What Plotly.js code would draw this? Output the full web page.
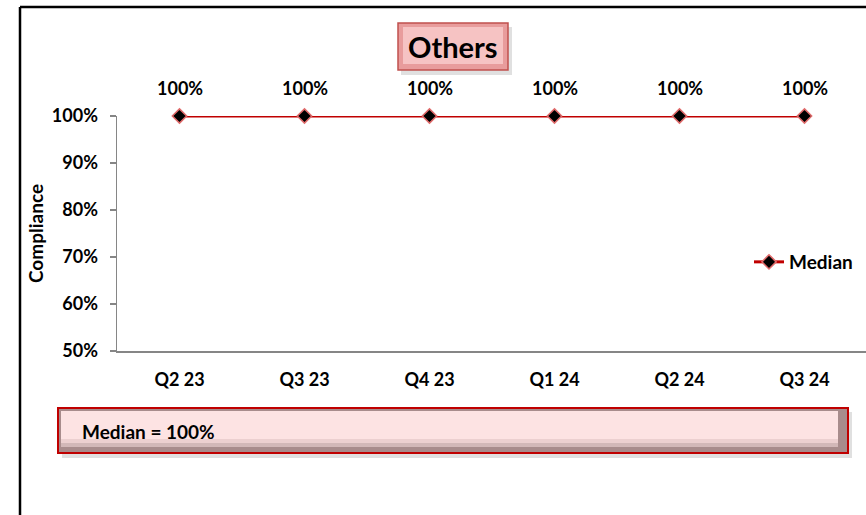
<!DOCTYPE html>
<html>
<head>
<meta charset="utf-8">
<script src="https://cdn.plot.ly/plotly-3.0.1.min.js"></script>
<style>html,body{margin:0;padding:0;background:#fff;}#chart{width:866px;height:515px;}</style>
</head>
<body>
<div id="chart"></div>
<script>
const categories = ['Q2 23', 'Q3 23', 'Q4 23', 'Q1 24', 'Q2 24', 'Q3 24'];
const medianValues = [100, 100, 100, 100, 100, 100];
const dataLabels = ['100%', '100%', '100%', '100%', '100%', '100%'];
const seriesName = 'Median';
const chartTitle = 'Others';
const summaryText = 'Median = 100%';
const yTickVals = [50, 60, 70, 80, 90, 100];
const yTickText = ['50%', '60%', '70%', '80%', '90%', '100%'];

const W = 866, H = 515;
const L = 117, R = 0, T = 116, B = 164;
const PW = W - L - R, PH = H - T - B;
const px = x => (x - L) / PW;
const py = y => (H - B - y) / PH;
const FONT = 'Lato, "Open Sans", sans-serif';

const trace = {
  x: categories,
  y: medianValues,
  type: 'scatter',
  mode: 'lines+markers',
  name: seriesName,
  line: {color: '#c00000', width: 3},
  marker: {symbol: 'diamond', size: 11, color: '#000000', line: {color: '#e06a6a', width: 1.5}},
  cliponaxis: false
};

const labelAnns = categories.map((c, i) => ({
  x: c, y: medianValues[i], xref: 'x', yref: 'y',
  text: '<b>' + dataLabels[i] + '</b>', showarrow: false,
  yshift: 28, font: {family: FONT, size: 18, color: '#000'}
}));

const shapes = [
  // outer frame
  {type: 'line', xref: 'paper', yref: 'paper', x0: px(20), x1: px(20), y0: py(7), y1: py(515), line: {color: '#000', width: 2.5}},
  {type: 'line', xref: 'paper', yref: 'paper', x0: px(20), x1: px(866), y0: py(7), y1: py(7), line: {color: '#000', width: 2.5}},
  // title box shadow + box
  {type: 'rect', xref: 'paper', yref: 'paper', x0: px(401), x1: px(512), y0: py(27), y1: py(75), fillcolor: 'rgba(0,0,0,0.12)', line: {width: 0}},
  {type: 'rect', xref: 'paper', yref: 'paper', x0: px(398), x1: px(508), y0: py(23), y1: py(70), fillcolor: '#e89c9c', line: {color: '#c0504d', width: 1.5}},
  {type: 'rect', xref: 'paper', yref: 'paper', x0: px(403), x1: px(503), y0: py(27), y1: py(64), fillcolor: '#f6c3c3', line: {width: 0}},
  // bottom box shadow + box
  {type: 'rect', xref: 'paper', yref: 'paper', x0: px(62), x1: px(852), y0: py(412), y1: py(458), fillcolor: 'rgba(0,0,0,0.12)', line: {width: 0}},
  {type: 'rect', xref: 'paper', yref: 'paper', x0: px(58), x1: px(848), y0: py(408), y1: py(453), fillcolor: '#a88c8c', line: {color: '#c00000', width: 2}},
  {type: 'rect', xref: 'paper', yref: 'paper', x0: px(61), x1: px(838), y0: py(411), y1: py(439), fillcolor: '#fde3e3', line: {width: 0}},
  {type: 'rect', xref: 'paper', yref: 'paper', x0: px(61), x1: px(838), y0: py(439), y1: py(443), fillcolor: '#ecd0d0', line: {width: 0}},
  {type: 'rect', xref: 'paper', yref: 'paper', x0: px(61), x1: px(838), y0: py(443), y1: py(447), fillcolor: '#d2b8b8', line: {width: 0}}
];

const layout = {
  width: W, height: H,
  margin: {l: L, r: R, t: T, b: B, pad: 0},
  paper_bgcolor: '#fff', plot_bgcolor: '#fff',
  font: {family: FONT, size: 18, color: '#000'},
  showlegend: true,
  legend: {x: px(749), y: py(262), xanchor: 'left', yanchor: 'middle', bgcolor: 'rgba(0,0,0,0)',
           font: {family: FONT, size: 19, color: '#000', weight: 'bold'}},
  xaxis: {
    type: 'category', range: [-0.5, 5.492], showgrid: false, zeroline: false,
    showline: true, linecolor: '#868686', linewidth: 1.5, ticks: '',
    ticklabelstandoff: 12,
    tickfont: {family: FONT, size: 18, color: '#000', weight: 'bold'}
  },
  yaxis: {
    range: [50, 100], tickvals: yTickVals, ticktext: yTickText,
    showgrid: false, zeroline: false, showline: true, linecolor: '#868686', linewidth: 1.5,
    ticks: 'outside', ticklen: 6, tickcolor: '#868686', tickwidth: 1.5,
    ticklabelstandoff: 8,
    tickfont: {family: FONT, size: 18, color: '#000', weight: 'bold'},
    title: {text: '<b>Compliance</b>', font: {family: FONT, size: 19, color: '#000'}, standoff: 3}
  },
  shapes: shapes,
  annotations: labelAnns.concat([
    {xref: 'paper', yref: 'paper', x: px(453), y: py(47), text: '<b>' + chartTitle + '</b>', showarrow: false,
     font: {family: FONT, size: 29, color: '#000'}, xanchor: 'center', yanchor: 'middle'},
    {xref: 'paper', yref: 'paper', x: px(80), y: py(431), text: '<b>' + summaryText + '</b>', showarrow: false,
     font: {family: FONT, size: 19, color: '#000'}, xanchor: 'left', yanchor: 'middle'}
  ])
};

Plotly.newPlot('chart', [trace], layout, {displayModeBar: false, staticPlot: true});
</script>
</body>
</html>
